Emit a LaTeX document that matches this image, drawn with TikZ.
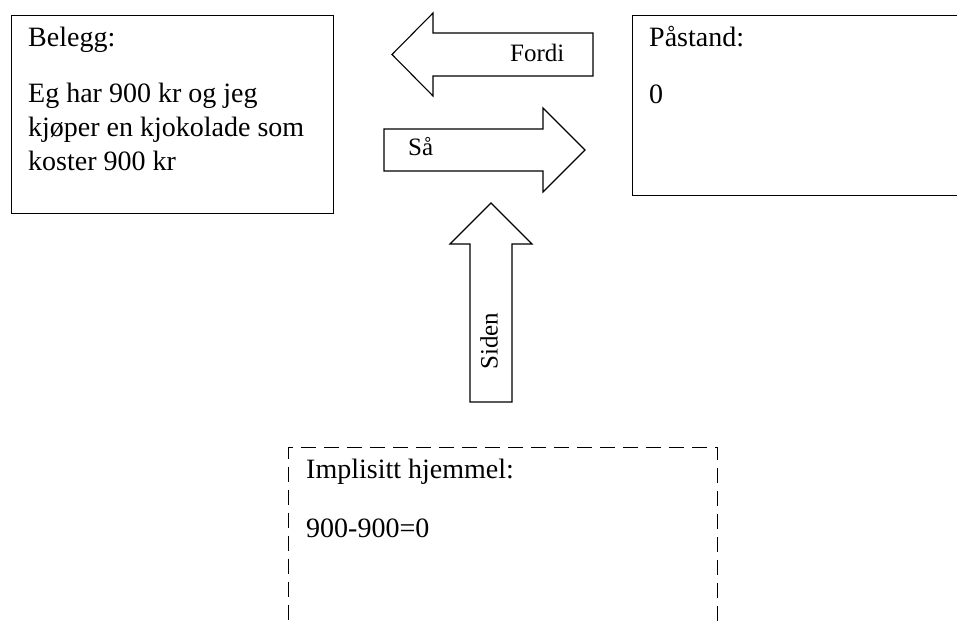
\documentclass[tikz,border=0pt]{standalone}
\usepackage{fontspec}
\setmainfont{Liberation Serif}
\begin{document}
\begin{tikzpicture}[x=1pt,y=-1pt,
  box/.style={draw, line width=1.4pt, inner sep=0pt, anchor=north west},
  dashbox/.style={box, dash pattern=on 15pt off 8pt},
  blockarrow/.style={draw, line width=1.1pt, fill=white, line join=miter},
  boxtext/.style={font=\fontsize{28}{34}\selectfont, inner sep=0pt, anchor=base west, align=left},
  arrowtext/.style={font=\fontsize{25}{30}\selectfont, inner sep=0pt}]
\useasboundingbox (0,0) rectangle (957,626);
\clip (0,0) rectangle (957,626);

% evidence box
\node[box, minimum width=322pt, minimum height=198pt] (belegg) at (11,15) {};
\node[boxtext] (beleggtitle) at (28,47) {Belegg:};
% a multi-line node's base anchor sits on its last line
\node[boxtext] (beleggbody) at (28,170) {Eg har 900 kr og jeg\\kjøper en kjokolade som\\koster 900 kr};

% claim box (runs past the right edge)
\node[box, minimum width=400pt, minimum height=180pt] (paastand) at (632,15) {};
\node[boxtext] (paastandtitle) at (649,47) {Påstand:};
\node[boxtext] (paastandbody) at (649,103) {0};

% warrant box (dashed, runs past the bottom edge)
\node[dashbox, minimum width=429pt, minimum height=250pt] (hjemmel) at (288,447) {};
\node[boxtext] (hjemmeltitle) at (306,478) {Implisitt hjemmel:};
\node[boxtext] (hjemmelbody) at (306,537) {900-900=0};

% block arrows
\draw[blockarrow] (593,33) -- (433,33) -- (433,13) -- (392,54.5) -- (433,96) -- (433,76) -- (593,76) -- cycle;
\node[arrowtext, anchor=base west] (fordi) at (510,62) {Fordi};

\draw[blockarrow] (384,129) -- (543,129) -- (543,108) -- (585,150) -- (543,192) -- (543,171) -- (384,171) -- cycle;
\node[arrowtext, anchor=base west] (saa) at (408,155) {Så};

\draw[blockarrow] (470,402) -- (470,244) -- (450,244) -- (491,203) -- (532,244) -- (512,244) -- (512,402) -- cycle;
\node[arrowtext, rotate=90] (siden) at (489,341) {Siden};
\end{tikzpicture}
\end{document}
